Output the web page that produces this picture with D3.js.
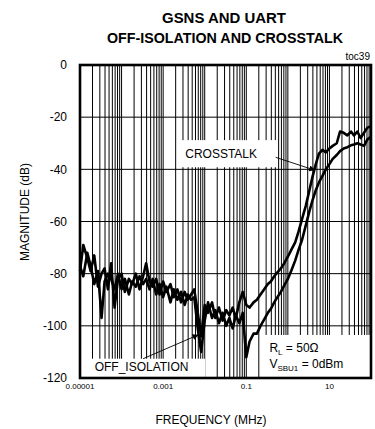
<!DOCTYPE html>
<html>
<head>
<meta charset="utf-8">
<script src="https://cdn.jsdelivr.net/npm/d3@7"></script>
<style>
  body { margin: 0; background: #fff; }
  text { font-family: "Liberation Sans", Arial, sans-serif; fill: #000; }
</style>
</head>
<body>
<svg id="chart" width="375" height="429"></svg>
<script>
// Frequency sweep points (MHz), E12 steps per decade
const freqMHz = [
  0.00001, 0.000012, 0.000015, 0.000018, 0.000022, 0.000027, 0.000033, 0.000039, 0.000047, 0.000056, 0.000068, 0.000082,
  0.0001, 0.00012, 0.00015, 0.00018, 0.00022, 0.00027, 0.00033, 0.00039, 0.00047, 0.00056, 0.00068, 0.00082,
  0.001, 0.0012, 0.0015, 0.0018, 0.0022, 0.0027, 0.0033, 0.0039, 0.0047, 0.0056, 0.0068, 0.0082,
  0.01, 0.012, 0.015, 0.018, 0.022, 0.027, 0.033, 0.039, 0.047, 0.056, 0.068, 0.082,
  0.1, 0.12, 0.15, 0.18, 0.22, 0.27, 0.33, 0.39, 0.47, 0.56, 0.68, 0.82,
  1, 1.2, 1.5, 1.8, 2.2, 2.7, 3.3, 3.9, 4.7, 5.6, 6.8, 8.2,
  10, 12, 15, 18, 22, 27, 33, 39, 47, 56, 68, 82,
  100
];

// Crosstalk magnitude (dB)
const crosstalkDb = [
  -79, -69, -74, -79, -73, -85, -80, -78, -86, -76, -93, -82,
  -80, -87, -82, -84, -80, -86, -81, -76, -83, -85, -82, -88,
  -83, -87, -84, -89, -86, -91, -87, -90, -88, -86, -95, -104,
  -92, -95, -91, -97, -93, -98, -94, -96, -93, -97, -91, -87,
  -92, -93, -91, -90, -88, -86, -84, -83, -81, -79.5, -78, -76,
  -73.5, -71, -68, -64, -59, -54, -48, -43, -38, -34, -32.5, -33.5,
  -32, -31, -30, -25.5, -26, -27, -25.5, -27, -25.5, -28, -26, -24,
  -23.5
];

// Off-isolation magnitude (dB)
const offIsolationDb = [
  -77, -81, -72, -77, -84, -79, -97, -83, -80, -82, -86, -80,
  -86, -82, -88, -83, -85, -81, -84, -82, -86, -82, -88, -84,
  -89, -85, -91, -86, -90, -87, -92, -88, -90, -89, -101, -110,
  -98, -91, -97, -94, -99, -95, -100, -97, -101, -96, -99, -95,
  -112, -106, -103, -103, -100, -97.5, -95, -93.5, -91, -89, -87, -84.5,
  -82, -79, -75, -71, -67, -61.5, -56, -52, -48, -45, -42.5, -40,
  -38, -36, -34.5, -33, -32, -31.5, -30.8, -30.5, -30, -30.5, -31, -28.5,
  -27.5
];

const yTickValues = [0, -20, -40, -60, -80, -100, -120];
const xLabelValues = [0.00001, 0.001, 0.1, 10];
const xLabelTexts = ["0.00001", "0.001", "0.1", "10"];

const svg = d3.select("#chart");
const plotLeft = 80, plotRight = 371, plotTop = 65, plotBottom = 378;

const x = d3.scaleLog().domain([1e-5, 100]).range([plotLeft, plotRight]);
const y = d3.scaleLinear().domain([-120, 0]).range([plotBottom, plotTop]);

// Log grid: every 1..9 multiple within each decade
const gridX = x.ticks().filter(v => v > 1e-5 * 1.0001 && v < 100 * 0.9999);
svg.append("g").selectAll("line").data(gridX).join("line")
  .attr("x1", d => x(d)).attr("x2", d => x(d))
  .attr("y1", plotTop).attr("y2", plotBottom)
  .attr("stroke", "#000").attr("stroke-width", 1);

svg.append("g").selectAll("line").data(yTickValues.filter(v => v > -120 && v < 0)).join("line")
  .attr("x1", plotLeft).attr("x2", plotRight)
  .attr("y1", d => y(d)).attr("y2", d => y(d))
  .attr("stroke", "#000").attr("stroke-width", 1);

// Label panels (white, over grid)
function panel(f0, f1, db0, db1) {
  svg.append("rect")
    .attr("x", x(f0)).attr("y", y(db0))
    .attr("width", x(f1) - x(f0)).attr("height", y(db1) - y(db0))
    .attr("fill", "#fff");
}
panel(0.0025, 0.53, -28.8, -39.2);      // CROSSTALK
panel(0.0000174, 0.0102, -112.6, -120); // OFF_ISOLATION
panel(0.28, 100, -103.5, -120);         // conditions

// Curves
const line = d3.line()
  .x((d, i) => x(freqMHz[i]))
  .y(d => y(d));

[crosstalkDb, offIsolationDb].forEach(series => {
  svg.append("path")
    .attr("d", line(series))
    .attr("fill", "none")
    .attr("stroke", "#000")
    .attr("stroke-width", 2.6)
    .attr("stroke-linejoin", "round");
});

// Arrows
svg.append("defs").append("marker")
  .attr("id", "arrowhead")
  .attr("viewBox", "0 0 10 10")
  .attr("refX", 9).attr("refY", 5)
  .attr("markerWidth", 7).attr("markerHeight", 6)
  .attr("markerUnits", "userSpaceOnUse")
  .attr("orient", "auto")
  .append("path").attr("d", "M0,0 L10,5 L0,10 Z").attr("fill", "#000");

function arrow(f0, db0, f1, db1) {
  svg.append("line")
    .attr("x1", x(f0)).attr("y1", y(db0))
    .attr("x2", x(f1)).attr("y2", y(db1))
    .attr("stroke", "#000").attr("stroke-width", 0.9)
    .attr("marker-end", "url(#arrowhead)");
}
arrow(0.51, -35.4, 4.4, -40.3);
arrow(0.00033, -112.6, 0.0069, -103.5);

// Plot frame
svg.append("rect")
  .attr("x", plotLeft).attr("y", plotTop)
  .attr("width", plotRight - plotLeft).attr("height", plotBottom - plotTop)
  .attr("fill", "none").attr("stroke", "#000").attr("stroke-width", 2.6);

// Annotation text
svg.append("text").attr("x", x(0.0034)).attr("y", y(-35.6))
  .attr("font-size", 12).text("CROSSTALK");
svg.append("text").attr("x", x(0.0000225)).attr("y", y(-117.5))
  .attr("font-size", 12).text("OFF_ISOLATION");

const rl = svg.append("text").attr("x", x(0.36)).attr("y", y(-110.0)).attr("font-size", 12);
rl.append("tspan").text("R");
rl.append("tspan").attr("font-size", 8).attr("dy", 3).text("L");
rl.append("tspan").attr("dy", -3).text(" = 50Ω");

const vs = svg.append("text").attr("x", x(0.36)).attr("y", y(-116.2)).attr("font-size", 12);
vs.append("tspan").text("V");
vs.append("tspan").attr("font-size", 8).attr("dy", 3).text("SBU1");
vs.append("tspan").attr("dy", -3).text(" = 0dBm");

// Axis tick labels
svg.append("g").selectAll("text").data(yTickValues).join("text")
  .attr("x", 67).attr("y", d => y(d)).attr("dy", "0.36em")
  .attr("text-anchor", "end").attr("font-size", 12)
  .text(d => d);

svg.append("g").selectAll("text").data(xLabelValues).join("text")
  .attr("x", d => x(d)).attr("y", 389)
  .attr("text-anchor", "middle").attr("font-size", 8)
  .text((d, i) => xLabelTexts[i]);

// Axis titles
svg.append("text").attr("x", 211).attr("y", 424)
  .attr("text-anchor", "middle").attr("font-size", 12)
  .text("FREQUENCY (MHz)");
svg.append("text")
  .attr("transform", "translate(29,212) rotate(-90)")
  .attr("text-anchor", "middle").attr("font-size", 12)
  .text("MAGNITUDE (dB)");

// Title
svg.append("text").attr("x", 224).attr("y", 23)
  .attr("text-anchor", "middle").attr("font-size", 15).attr("font-weight", "bold")
  .attr("textLength", 124).attr("lengthAdjust", "spacingAndGlyphs")
  .text("GSNS AND UART");
svg.append("text").attr("x", 225).attr("y", 43)
  .attr("text-anchor", "middle").attr("font-size", 15).attr("font-weight", "bold")
  .attr("textLength", 236).attr("lengthAdjust", "spacingAndGlyphs")
  .text("OFF-ISOLATION AND CROSSTALK");
svg.append("text").attr("x", 370).attr("y", 60)
  .attr("text-anchor", "end").attr("font-size", 10)
  .text("toc39");
</script>
</body>
</html>
